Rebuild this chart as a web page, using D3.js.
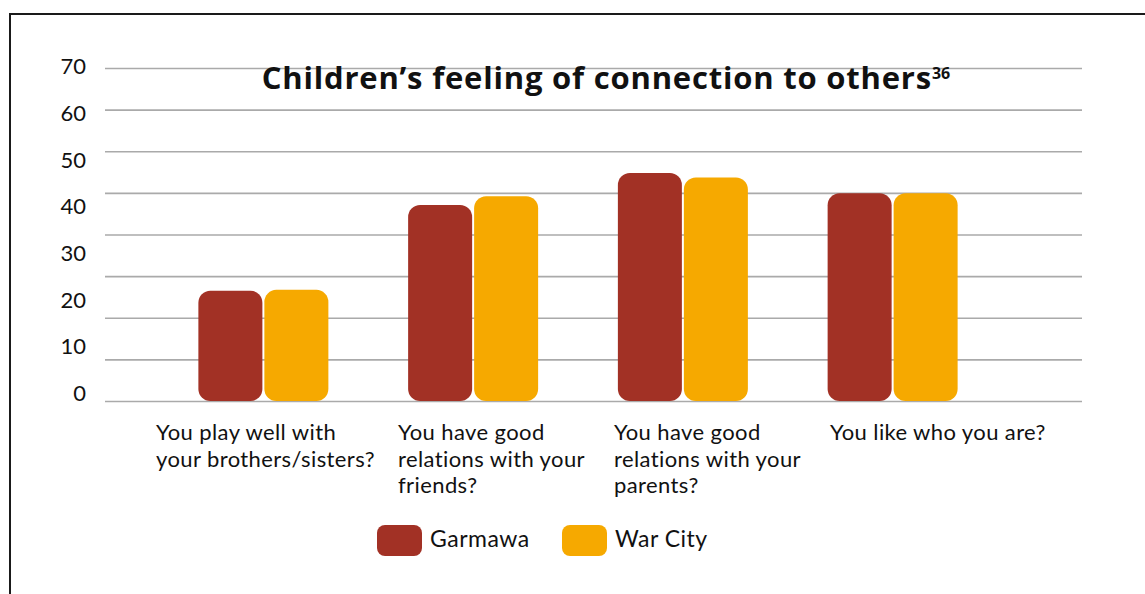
<!DOCTYPE html>
<html>
<head>
<meta charset="utf-8">
<script src="https://cdn.jsdelivr.net/npm/d3@7"></script>
<style>
  body { margin: 0; background: #fff; }
  text { font-family: Lato, "Open Sans", sans-serif; fill: #111; }
</style>
</head>
<body>
<div id="graph"></div>
<script>
/* chart data */
var categories = ["brothers", "friends", "parents", "self"];
var categoryLabels = [
  ["You play well with", "your brothers/sisters?"],
  ["You have good", "relations with your", "friends?"],
  ["You have good", "relations with your", "parents?"],
  ["You like who you are?"]
];
var series = ["Garmawa", "War City"];
var garmawa = [26.5, 47.1, 54.8, 49.9];
var warCity = [26.7, 49.2, 53.7, 49.9];
var tickLabels = [0, 10, 20, 30, 40, 50, 60, 70];
var colors = ["#a23125", "#f6a900"];

var W = 1145, H = 594;

var svg = d3.select("#graph").append("svg")
  .attr("width", W)
  .attr("height", H);

// frame, only top and left edges are inside the picture
svg.append("rect")
  .attr("x", 10).attr("y", 14)
  .attr("width", W + 20).attr("height", H + 20)
  .attr("fill", "none")
  .attr("stroke", "#1a1a1a")
  .attr("stroke-width", 2);

// y scale for bars and gridlines
var y = d3.scaleLinear().domain([0, 80]).range([401, 68]);
// tick labels sit on their own spacing
var yLabel = d3.scaleLinear().domain([0, 70]).range([393.5, 66.7]);

var x0 = d3.scaleBand().domain(categories).range([158.5, 997.5]);
var x1 = d3.scaleBand().domain(series)
  .range([x0.bandwidth() / 2 - 65, x0.bandwidth() / 2 + 65])
  .paddingInner(0.03);

// label columns are not evenly spaced in the original
var xLabel = d3.scaleOrdinal().domain(categories).range([156, 398, 614, 830]);

// gridlines
var gridAxis = d3.axisLeft(y)
  .tickValues(d3.range(0, 81, 10))
  .tickSize(-(1082 - 105))
  .tickFormat("");
var grid = svg.append("g")
  .attr("transform", "translate(105,0)")
  .call(gridAxis);
grid.select(".domain").remove();
grid.selectAll("line")
  .attr("stroke", "#aaa")
  .attr("stroke-width", 1.6);

// y tick labels
var yAxis = d3.axisLeft(yLabel)
  .tickValues(tickLabels)
  .tickSize(0)
  .tickPadding(0);
var ya = svg.append("g")
  .attr("transform", "translate(86,0)")
  .call(yAxis);
ya.select(".domain").remove();
ya.selectAll("text")
  .style("font-size", "22px")
  .style("font-family", "Lato, sans-serif")
  .attr("fill", "#111");

// title
var title = svg.append("text")
  .attr("x", 606)
  .attr("y", 89)
  .attr("text-anchor", "middle")
  .style("font-family", "'Open Sans', sans-serif")
  .style("font-size", "31px")
  .style("font-weight", "bold")
  .style("letter-spacing", "0.8px");
title.append("tspan").text("Children\u2019s feeling of connection to others");
title.append("tspan")
  .attr("dy", -10)
  .style("font-size", "16px")
  .style("letter-spacing", "0px")
  .text("36");

// bars
var rows = categories.map(function(c, i) {
  return { cat: c, vals: [garmawa[i], warCity[i]] };
});

var groups = svg.selectAll(".grp")
  .data(rows)
  .enter().append("g")
  .attr("class", "grp")
  .attr("transform", function(d) { return "translate(" + x0(d.cat) + ",0)"; });

groups.selectAll("rect")
  .data(function(d) { return d.vals.map(function(v, j) { return { s: series[j], v: v, j: j }; }); })
  .enter().append("rect")
  .attr("x", function(d) { return x1(d.s); })
  .attr("y", function(d) { return y(d.v); })
  .attr("width", x1.bandwidth())
  .attr("height", function(d) { return y(0) - y(d.v); })
  .attr("rx", 12).attr("ry", 12)
  .attr("fill", function(d) { return colors[d.j]; });

// category labels
var cl = svg.selectAll(".catlabel")
  .data(categories)
  .enter().append("text")
  .attr("class", "catlabel")
  .attr("x", function(d) { return xLabel(d); })
  .attr("y", 440)
  .style("font-size", "22px")
  .style("letter-spacing", "0.4px");
cl.selectAll("tspan")
  .data(function(d, i) { return categoryLabels[i]; })
  .enter().append("tspan")
  .attr("x", function() { return d3.select(this.parentNode).attr("x"); })
  .attr("dy", function(d, i) { return i === 0 ? 0 : 26.5; })
  .text(function(d) { return d; });

// legend
var legendX = d3.scalePoint().domain(series).range([377, 562]);
var leg = svg.selectAll(".leg")
  .data(series)
  .enter().append("g")
  .attr("class", "leg")
  .attr("transform", function(d) { return "translate(" + legendX(d) + ",525)"; });
leg.append("rect")
  .attr("width", 45).attr("height", 31)
  .attr("rx", 8).attr("ry", 8)
  .attr("fill", function(d, i) { return colors[i]; });
leg.append("text")
  .attr("x", 53)
  .attr("y", 22)
  .style("font-size", "23px")
  .style("letter-spacing", "0.5px")
  .text(function(d) { return d; });
</script>
</body>
</html>
